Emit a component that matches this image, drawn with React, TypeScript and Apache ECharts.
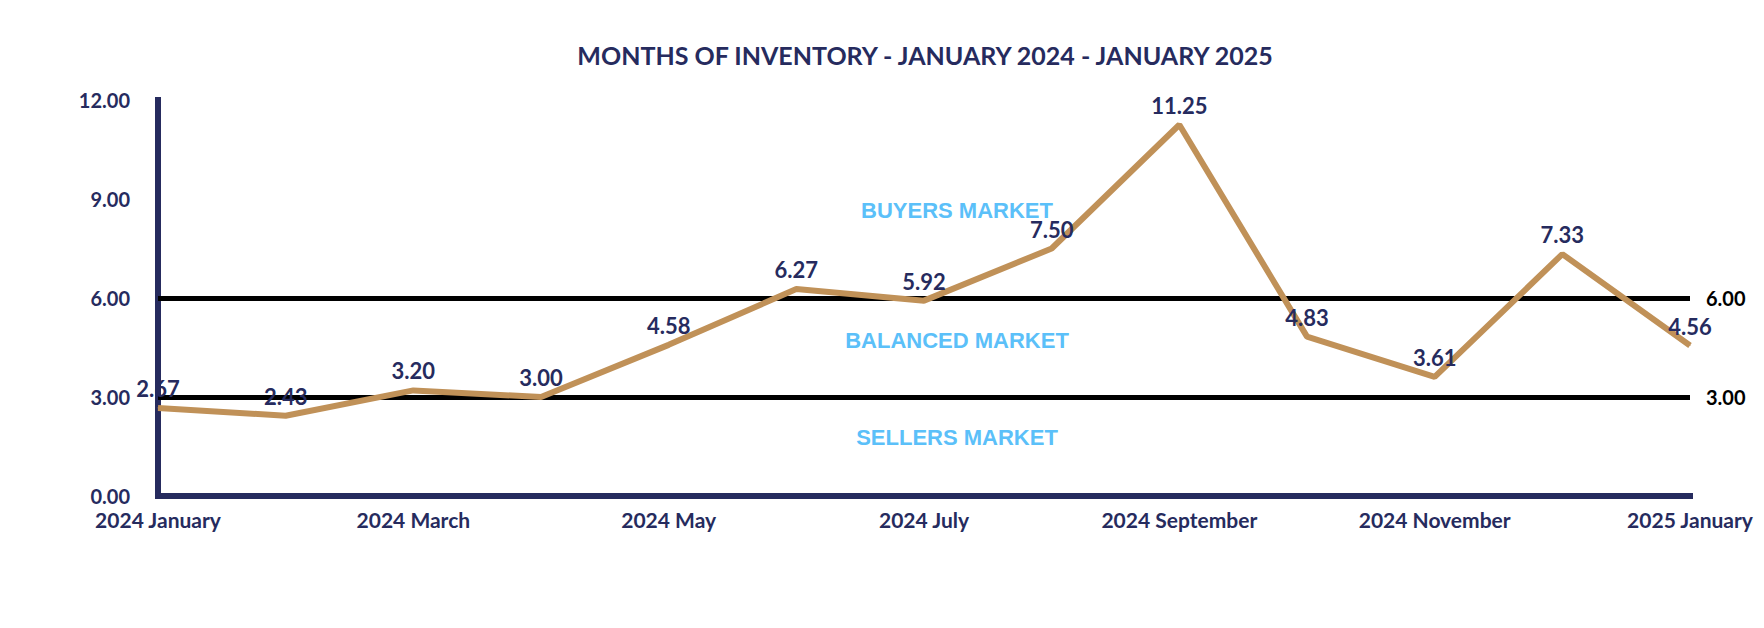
import React, { useEffect, useRef } from "react";
import * as echarts from "echarts";

const months = [
  "2024 January", "2024 February", "2024 March", "2024 April", "2024 May", "2024 June",
  "2024 July", "2024 August", "2024 September", "2024 October", "2024 November",
  "2024 December", "2025 January",
];
const inventory = [2.67, 2.43, 3.2, 3.0, 4.58, 6.27, 5.92, 7.5, 11.25, 4.83, 3.61, 7.33, 4.56];
const thresholds = [3, 6];
const yMin = 0;
const yMax = 12;
const yInterval = 3;
const zoneLabels = ["BUYERS MARKET", "BALANCED MARKET", "SELLERS MARKET"];
const zoneLabelValues = [8.65, 4.7, 1.76];
const titleText = "MONTHS OF INVENTORY - JANUARY 2024 - JANUARY 2025";

const NAVY = "#262b5e";
const TAN = "#c09158";
const SKY = "#5bc0f9";

export default function App() {
  const ref = useRef<HTMLDivElement>(null);
  useEffect(() => {
    if (!ref.current) return;
    const chart = echarts.init(ref.current, undefined, { renderer: "svg" });
    const option: any = {
      animation: false,
      backgroundColor: "#ffffff",
      grid: { left: 158, right: 74, top: 100, bottom: 132, containLabel: false },
      xAxis: {
        type: "category",
        data: months,
        boundaryGap: false,
        axisLine: { show: true, lineStyle: { color: NAVY, width: 6, cap: "square" } },
        axisTick: { show: false },
        axisLabel: {
          interval: 1,
          color: NAVY,
          fontFamily: "Lato",
          fontWeight: "bold",
          fontSize: 21,
          margin: 13,
        },
        splitLine: { show: false },
      },
      yAxis: {
        type: "value",
        min: yMin,
        max: yMax,
        interval: yInterval,
        axisLine: { show: true, lineStyle: { color: NAVY, width: 6, cap: "square" } },
        axisTick: { show: false },
        splitLine: { show: false },
        axisLabel: {
          color: NAVY,
          fontFamily: "Lato",
          fontWeight: "bold",
          fontSize: 20,
          margin: 28,
          formatter: (v: number) => v.toFixed(2),
        },
      },
      series: [
        {
          type: "line",
          data: inventory,
          symbol: "circle",
          symbolSize: 1,
          itemStyle: { color: TAN },
          lineStyle: { color: TAN, width: 6 },
          z: 3,
          label: {
            show: true,
            position: "top",
            distance: 8,
            color: NAVY,
            fontFamily: "Lato",
            fontWeight: "bold",
            fontSize: 22,
            formatter: (p: any) => Number(p.value).toFixed(2),
          },
          markLine: {
            silent: true,
            symbol: "none",
            z: 2,
            lineStyle: { color: "#000000", width: 5, type: "solid" },
            label: {
              show: true,
              position: "end",
              distance: 16,
              color: "#000000",
              fontFamily: "Lato",
              fontWeight: "bold",
              fontSize: 20,
              formatter: (p: any) => Number(p.value).toFixed(2),
            },
            data: thresholds.map((t) => ({ yAxis: t })),
          },
        },
      ],
    };
    chart.setOption(option);

    const xMid = (chart.convertToPixel({ xAxisIndex: 0 }, months[6]) as number) + 33;
    const graphics: any[] = [
      {
        type: "text",
        x: 925,
        y: 55,
        style: {
          text: titleText,
          fill: NAVY,
          font: "bold 25px Lato",
          align: "center",
          verticalAlign: "middle",
        },
      },
    ];
    zoneLabels.forEach((name, i) => {
      const y = chart.convertToPixel({ yAxisIndex: 0 }, zoneLabelValues[i]) as number;
      graphics.push({
        type: "text",
        x: xMid,
        y,
        style: {
          text: name,
          fill: SKY,
          font: "bold 22px 'Liberation Sans'",
          align: "center",
          verticalAlign: "middle",
        },
      });
    });
    chart.setOption({ graphic: graphics });

    return () => chart.dispose();
  }, []);
  return (
    <div
      ref={ref}
      style={{ position: "absolute", left: 0, top: 0, width: 1764, height: 628 }}
    />
  );
}
